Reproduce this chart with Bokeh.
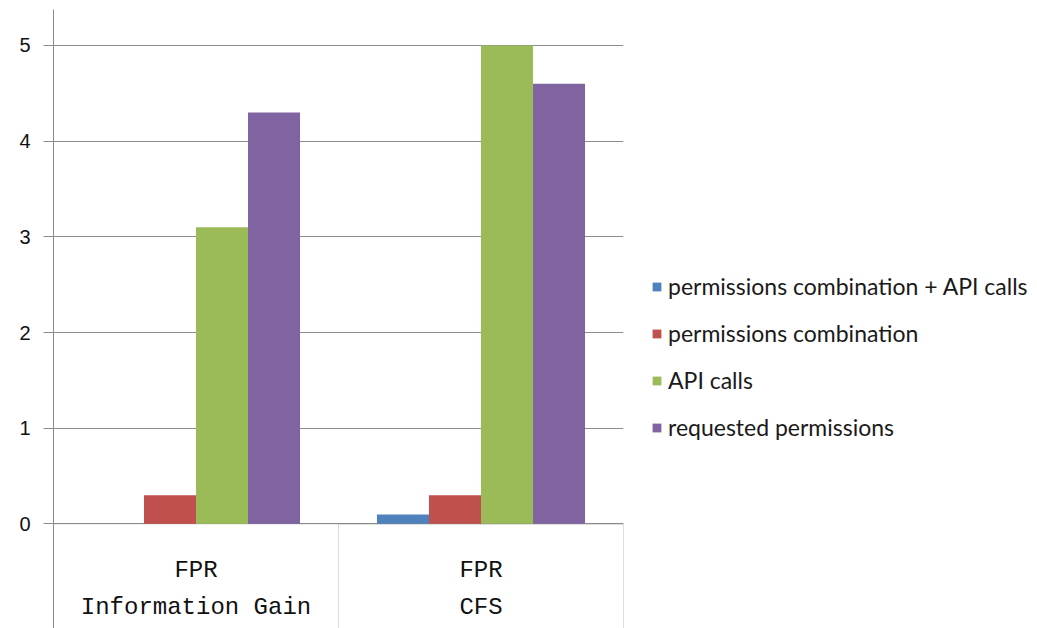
from bokeh.plotting import figure
from bokeh.models import (FactorRange, Range1d, ColumnDataSource, FixedTicker,
                          Legend, LegendItem, BoxAnnotation, CategoricalAxis)
from bokeh.transform import dodge
from bokeh.embed import file_html
from bokeh.resources import INLINE

# ---- data ----
methods = ["Information Gain", "CFS"]
metric = "FPR"
series = ["permissions combination + API calls", "permissions combination",
          "API calls", "requested permissions"]
combo_api = [0.0, 0.1]
combo = [0.3, 0.3]
api_calls = [3.1, 5.0]
requested = [4.3, 4.6]
y_ticks = [0, 1, 2, 3, 4, 5]

colors = ["#4F81BD", "#C0504D", "#9BBB59", "#8064A2"]
grid_col = "#8c8c8c"

factors = [(m, metric) for m in methods]
src = ColumnDataSource(dict(x=factors, s0=combo_api, s1=combo, s2=api_calls, s3=requested))

xr = FactorRange(factors=factors, range_padding=0, group_padding=0, factor_padding=0)
p = figure(x_range=xr, y_range=Range1d(-1.092, 5.376),
           frame_width=570, frame_height=619,
           min_border_left=53, min_border_top=9, min_border_bottom=0, min_border_right=414,
           output_backend="svg", toolbar_location=None, x_axis_location=None)
p.outline_line_color = None
p.background_fill_color = "white"
p.border_fill_color = "white"

bw = 0.1825
offsets = [-0.27375, -0.09125, 0.09125, 0.27375]
rs = []
for i, col in enumerate(["s0", "s1", "s2", "s3"]):
    r = p.vbar(x=dodge("x", offsets[i], range=xr), top=col, width=bw, source=src,
               fill_color=colors[i], line_color=None)
    rs.append(r)

# y axis / grid
p.yaxis.ticker = FixedTicker(ticks=y_ticks)
p.yaxis.minor_tick_line_color = None
p.yaxis.major_tick_in = 0
p.yaxis.major_tick_out = 10
p.yaxis.major_tick_line_color = grid_col
p.yaxis.axis_line_color = grid_col
p.yaxis.major_label_standoff = 13
p.yaxis.major_label_text_font = "Liberation Sans"
p.yaxis.major_label_text_font_size = "20px"
p.yaxis.major_label_text_color = "#111111"
p.ygrid.ticker = FixedTicker(ticks=y_ticks)
p.ygrid.grid_line_color = grid_col
p.xgrid.grid_line_color = None

# category axis drawn at y = 0
xaxis = CategoricalAxis(fixed_location=0)
xaxis.axis_line_color = None
xaxis.major_tick_line_color = None
xaxis.major_tick_out = 26
xaxis.major_label_standoff = 7
xaxis.major_label_text_font = "Liberation Mono"
xaxis.major_label_text_font_size = "24px"
xaxis.major_label_text_color = "#111111"
xaxis.group_text_font = "Liberation Mono"
xaxis.group_text_font_size = "24px"
xaxis.group_text_font_style = "normal"
xaxis.group_text_color = "#111111"
xaxis.separator_line_color = None
p.add_layout(xaxis, "below")

# table lines below the baseline: outer box and the divider between the two categories
p.add_layout(BoxAnnotation(top=0, fill_alpha=0, line_color=grid_col, line_width=1))
p.add_layout(BoxAnnotation(top=0, left=1.0, fill_alpha=0, line_color=grid_col, line_width=1))

legend = Legend(items=[LegendItem(label=s, renderers=[r]) for s, r in zip(series, rs)],
                location=(28, 187), orientation="vertical",
                glyph_width=11, glyph_height=11, label_standoff=6,
                label_text_font="Lato", label_text_font_size="23px",
                label_text_color="#1a1a1a", label_height=27, spacing=19,
                border_line_color=None, background_fill_alpha=0, padding=0, margin=0)
p.add_layout(legend, "right")

open("out.html", "w").write(file_html(p, INLINE))
